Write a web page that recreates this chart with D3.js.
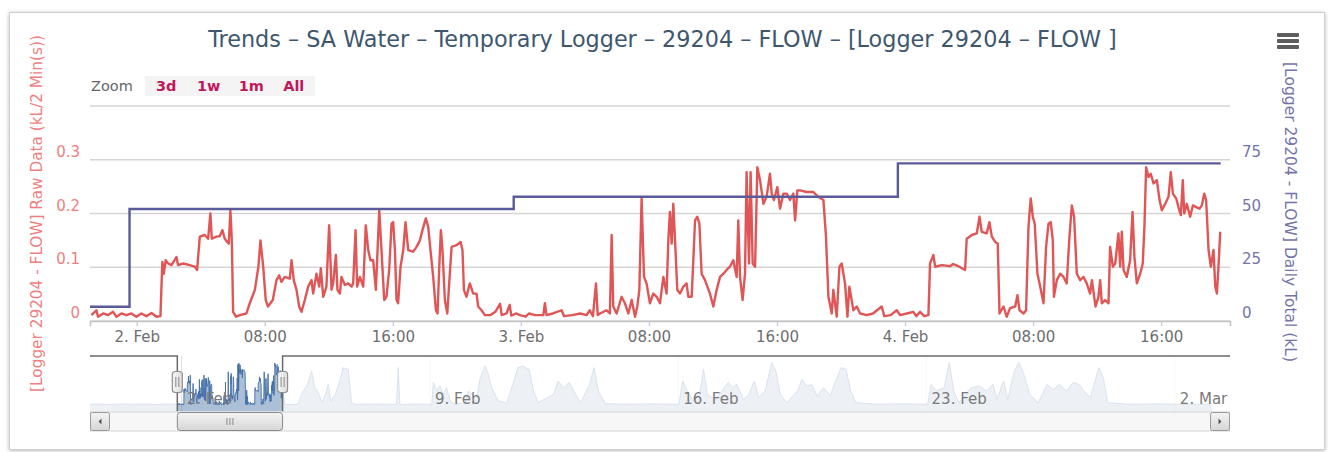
<!DOCTYPE html>
<html><head><meta charset="utf-8">
<script src="https://cdn.jsdelivr.net/npm/d3@7"></script>
<style>
html,body{margin:0;padding:0;background:#fff;}
svg{display:block;font-family:"DejaVu Sans",Verdana,sans-serif;}
</style></head><body>
<svg id="chart" width="1328" height="452"></svg>
<script>
// ---------- DATA ----------
const BASE = Date.UTC(2015, 1, 2); // 2 Feb 00:00 (hours below are offsets from this)
const titleText = "Trends – SA Water – Temporary Logger – 29204 – FLOW – [Logger 29204 – FLOW ]";
const leftTitle = "[Logger 29204 - FLOW] Raw Data (kL/2 Min(s))";
const rightTitle = "[Logger 29204 - FLOW] Daily Total (kL)";
const zoomButtons = ["3d", "1w", "1m", "All"];
const leftTicks = [0, 0.1, 0.2, 0.3];
const leftTickLabels = ["0", "0.1", "0.2", "0.3"];
const rightTicks = [0, 25, 50, 75];
const rightTickLabels = ["0", "25", "50", "75"];
const gridLeftValues = [0, 0.1, 0.2, 0.3, 0.4];
const viewRangeHours = [-2.92, 68.3];
const navRangeHours = [-62, 709.3];

// Raw flow (kL / 2 min): [hour offset, value]
const rawFlow = [
[-2.83,0.011],[-2.52,0.020],[-2.42,0.008],[-2.10,0.014],[-1.79,0.011],[-1.48,0.017],[-1.27,0.008],[-0.96,0.014],[-0.65,0.011],[-0.33,0.014],[-0.02,0.008],[0.29,0.014],[0.60,0.009],[0.92,0.015],[1.23,0.008],[1.48,0.009],[1.60,0.110],[1.69,0.088],[1.81,0.113],[1.96,0.107],[2.17,0.104],[2.48,0.119],[2.58,0.104],[2.90,0.107],[3.31,0.104],[3.63,0.101],[3.77,0.095],[3.94,0.157],[4.25,0.160],[4.46,0.153],[4.60,0.200],[4.69,0.153],[4.98,0.157],[5.19,0.158],[5.35,0.169],[5.50,0.153],[5.65,0.147],[5.75,0.144],[5.85,0.206],[5.94,0.150],[6.02,0.017],
[6.20,0.008],[6.44,0.011],[6.85,0.014],[7.06,0.033],[7.38,0.058],[7.60,0.101],[7.73,0.150],[7.90,0.101],[8.06,0.039],[8.20,0.027],[8.50,0.039],[8.73,0.076],[8.90,0.085],[9.04,0.073],[9.25,0.082],[9.56,0.079],[9.67,0.113],[9.81,0.076],[9.98,0.058],[10.15,0.027],[10.29,0.017],[10.50,0.039],[10.71,0.064],[10.92,0.076],[11.02,0.051],[11.23,0.088],[11.40,0.064],[11.50,0.098],[11.65,0.045],[11.85,0.064],[12.02,0.178],[12.17,0.058],[12.27,0.070],[12.44,0.123],[12.54,0.058],[12.69,0.051],[12.79,0.082],[13.00,0.067],[13.21,0.070],[13.42,0.064],[13.52,0.070],[13.67,0.169],[13.77,0.064],[13.94,0.082],[14.15,0.064],[14.31,0.178],[14.46,0.132],[14.60,0.113],[14.77,0.113],[14.94,0.058],[15.15,0.206],[15.29,0.132],[15.46,0.039],[15.60,0.045],[15.77,0.095],[15.92,0.181],[16.02,0.184],[16.13,0.132],[16.23,0.039],[16.33,0.033],[16.48,0.101],[16.65,0.132],[16.79,0.184],[16.96,0.132],[17.27,0.129],[17.48,0.138],[17.69,0.150],[17.85,0.169],[18.06,0.191],[18.21,0.175],[18.35,0.132],[18.52,0.082],[18.69,0.020],[18.79,0.014],[18.90,0.101],[19.00,0.169],[19.10,0.132],[19.25,0.039],[19.40,0.014],[19.52,0.070],[19.67,0.138],[19.98,0.141],[20.23,0.147],[20.35,0.132],[20.44,0.058],[20.60,0.045],[20.81,0.070],[21.02,0.051],[21.23,0.051],[21.33,0.027],[21.54,0.020],[21.75,0.011],
[22.10,0.011],[22.40,0.017],[22.70,0.032],[22.80,0.011],[23.10,0.014],[23.30,0.030],[23.40,0.010],[23.70,0.014],
[23.94,0.011],[24.30,0.008],[24.50,0.014],[24.90,0.011],[25.40,0.011],[25.50,0.033],[25.60,0.011],[26.00,0.014],[26.54,0.020],[26.70,0.009],[27.20,0.011],[27.70,0.014],[28.10,0.011],[28.30,0.020],[28.50,0.009],[28.69,0.070],[28.80,0.011],[28.94,0.014],[29.35,0.020],[29.56,0.014],[29.67,0.160],[29.77,0.027],[29.98,0.014],[30.29,0.045],[30.50,0.033],[30.71,0.014],[30.92,0.039],[31.13,0.008],[31.27,0.027],[31.40,0.058],[31.54,0.228],[31.69,0.082],[31.85,0.070],[32.06,0.033],[32.27,0.051],[32.48,0.045],[32.69,0.033],[32.90,0.082],[33.10,0.051],[33.21,0.150],[33.31,0.203],[33.42,0.144],[33.52,0.218],[33.63,0.150],[33.77,0.058],[33.94,0.051],[34.15,0.064],[34.35,0.070],[34.46,0.045],[34.67,0.045],[34.88,0.187],[35.02,0.194],[35.15,0.181],[35.29,0.088],[35.50,0.076],[35.81,0.051],[36.02,0.027],[36.23,0.058],[36.44,0.082],[36.65,0.088],[36.85,0.095],[37.06,0.101],[37.27,0.113],[37.48,0.082],[37.58,0.187],[37.69,0.082],[37.85,0.039],[38.00,0.088],[38.10,0.277],[38.25,0.107],[38.35,0.277],[38.48,0.107],[38.63,0.101],[38.77,0.286],[38.94,0.262],[39.15,0.218],[39.35,0.231],[39.56,0.274],[39.67,0.237],[39.81,0.225],[40.02,0.249],[40.19,0.209],[40.40,0.237],[40.60,0.237],[40.81,0.225],[41.02,0.237],[41.13,0.187],[41.27,0.243],[41.44,0.243],[41.85,0.240],[42.27,0.240],[42.58,0.231],[42.90,0.225],[43.06,0.157],[43.21,0.045],[43.42,0.014],[43.52,0.058],[43.73,0.008],[43.90,0.101],[44.04,0.107],[44.25,0.070],[44.40,0.008],[44.52,0.064],[44.60,0.050],[44.77,0.020],[44.98,0.027],[45.19,0.014],
[45.60,0.011],[46.00,0.014],[46.54,0.027],[46.70,0.009],[47.10,0.011],[47.48,0.020],[47.69,0.011],[48.10,0.014],[48.52,0.017],[48.70,0.009],[48.94,0.017],[49.20,0.009],[49.46,0.011],
[49.56,0.107],[49.77,0.123],[49.88,0.101],[50.30,0.104],[50.81,0.102],[51.00,0.106],[51.33,0.102],[51.75,0.095],[51.85,0.153],[52.17,0.160],[52.48,0.163],[52.65,0.194],[52.79,0.166],[53.10,0.163],[53.27,0.184],[53.42,0.157],[53.63,0.147],[53.79,0.144],[53.90,0.014],[54.15,0.027],[54.35,0.008],[54.56,0.024],[54.88,0.027],[55.02,0.048],[55.15,0.020],[55.40,0.014],[55.56,0.020],[55.71,0.175],[55.85,0.228],[55.98,0.194],[56.10,0.181],[56.27,0.088],[56.44,0.064],[56.65,0.033],[56.81,0.138],[56.96,0.181],[57.10,0.184],[57.23,0.150],[57.30,0.045],[57.48,0.076],[57.69,0.088],[57.90,0.082],[58.10,0.070],[58.27,0.157],[58.42,0.215],[58.56,0.194],[58.73,0.088],[58.94,0.076],[59.15,0.082],[59.35,0.070],[59.56,0.051],[59.67,0.076],[59.90,0.027],[60.08,0.045],[60.19,0.076],[60.29,0.033],[60.50,0.039],[60.71,0.033],[60.81,0.138],[60.98,0.101],[61.13,0.107],[61.33,0.163],[61.44,0.101],[61.54,0.166],[61.65,0.095],[61.85,0.082],[62.06,0.113],[62.21,0.203],[62.33,0.119],[62.48,0.070],[62.69,0.088],[62.85,0.107],[62.96,0.181],[63.06,0.286],[63.21,0.268],[63.35,0.274],[63.52,0.256],[63.73,0.262],[63.90,0.225],[64.04,0.206],[64.25,0.218],[64.46,0.231],[64.60,0.277],[64.73,0.237],[64.94,0.228],[65.08,0.212],[65.23,0.197],[65.35,0.262],[65.44,0.200],[65.60,0.218],[65.81,0.194],[65.98,0.215],[66.19,0.212],[66.40,0.209],[66.54,0.215],[66.69,0.237],[66.81,0.225],[66.96,0.132],[67.10,0.101],[67.27,0.132],[67.38,0.064],[67.48,0.051],[67.58,0.101],[67.69,0.166]
];

// Daily totals (kL), step series
const dailyHours  = [-3.5, -0.45, 23.55, 47.55, 67.72];
const dailyTotals = [6.6, 52.1, 57.8, 73.3, 73.3];

// Navigator series outside the viewed window: [hour offset, value]
const navBefore = [[-62,0.011],[-55,0.013],[-48,0.010],[-40,0.014],[-32,0.011],[-24,0.013],[-16,0.010],[-8,0.014],[-3.0,0.011]];
const navAfter = [
[69.8,0.011],[78.8,0.011],[81.1,0.078],[85.1,0.144],[87.9,0.233],[90.1,0.122],[92.4,0.089],[95.0,0.022],[97.4,0.078],[99.2,0.144],[100.9,0.033],[104.1,0.078],[107.0,0.167],[109.3,0.256],[112.7,0.244],[115.0,0.022],[117.2,0.011],[130,0.013],[145.4,0.011],[146.5,0.256],[147.7,0.011],[160,0.013],[169.2,0.011],[170.3,0.156],[172.6,0.100],[174.8,0.133],[177.0,0.078],[179.3,0.122],[181.6,0.033],[185.0,0.011],[191.7,0.022],[194.0,0.100],[196.3,0.078],[199.7,0.056],[202.0,0.189],[205.4,0.267],[207.5,0.211],[209.8,0.122],[214.3,0.033],[220,0.020],[227.6,0.256],[230.6,0.267],[235.1,0.244],[238.1,0.100],[241.2,0.022],[251.8,0.078],[254.7,0.167],[258.4,0.122],[262.3,0.156],[265.4,0.100],[269.9,0.022],[276.0,0.144],[279.0,0.256],[282.0,0.100],[286.5,0.016],[300,0.012],[320,0.014],[336.4,0.011],[339.0,0.167],[342.0,0.100],[346.4,0.033],[350.8,0.100],[353.1,0.244],[355.7,0.078],[361.0,0.044],[365.4,0.100],[369.8,0.156],[372.8,0.122],[375.7,0.144],[380.1,0.044],[383.9,0.078],[387.4,0.167],[390.4,0.056],[394.8,0.100],[399.2,0.290],[402.1,0.233],[405.0,0.078],[409.4,0.022],[416.7,0.100],[419.7,0.178],[423.2,0.133],[426.2,0.144],[430.0,0.067],[434.4,0.122],[438.8,0.067],[441.7,0.144],[446.1,0.256],[449.6,0.244],[452.6,0.100],[456.4,0.022],[470,0.012],[490,0.014],[504.8,0.011],[507.1,0.144],[510.6,0.100],[515.9,0.122],[519.4,0.290],[522.4,0.100],[525.9,0.022],[534.1,0.122],[540.0,0.133],[544.4,0.100],[548.8,0.144],[551.7,0.044],[556.1,0.167],[559.0,0.044],[563.4,0.233],[566.4,0.290],[569.9,0.211],[573.7,0.078],[579.6,0.022],[585.4,0.144],[589.8,0.111],[594.2,0.144],[598.6,0.100],[603.0,0.156],[607.4,0.144],[610.4,0.100],[614.8,0.056],[620.6,0.256],[623.6,0.189],[626.5,0.022],[640,0.012],[660,0.014],[680,0.011],[697.0,0.012]
];

// ---------- RENDER ----------
const H = 3600e3;
const toDate = h => new Date(BASE + h * H);
const svg = d3.select("#chart");
const defs = svg.append("defs");

const sh = defs.append("filter").attr("id","shadow").attr("x","-5%").attr("y","-5%").attr("width","110%").attr("height","110%");
sh.append("feDropShadow").attr("dx",0).attr("dy",1).attr("stdDeviation",2).attr("flood-color","#000").attr("flood-opacity",0.28);

const gBtn = defs.append("linearGradient").attr("id","gBtn").attr("x1",0).attr("y1",0).attr("x2",0).attr("y2",1);
gBtn.append("stop").attr("offset","0").attr("stop-color","#f4f4f4");
gBtn.append("stop").attr("offset","1").attr("stop-color","#d6d6d6");
const gHandle = defs.append("linearGradient").attr("id","gHandle").attr("x1",0).attr("y1",0).attr("x2",1).attr("y2",0);
gHandle.append("stop").attr("offset","0").attr("stop-color","#f6f6f6");
gHandle.append("stop").attr("offset","1").attr("stop-color","#dcdcdc");

// frame
svg.append("rect").attr("x",9.5).attr("y",12.5).attr("width",1315).attr("height",437)
  .attr("fill","#fff").attr("stroke","#cfcfcf").attr("filter","url(#shadow)");

// scales
const x = d3.scaleUtc().domain(viewRangeHours.map(toDate)).range([90, 1230]);
const yL = d3.scaleLinear().domain([0, 0.4]).range([321, 106]);
const yR = d3.scaleLinear().domain([0, 100]).range([321, 106]);
const nx = d3.scaleUtc().domain(navRangeHours.map(toDate)).range([90, 1230]);
const ny = d3.scaleLinear().domain([0, 0.3]).range([406, 361]);

function fitWidth(sel, w){
  const n = sel.node(); const fs = parseFloat(sel.attr("font-size"));
  const len = n.getComputedTextLength();
  sel.attr("font-size", (fs * w / len).toFixed(2));
}

// title
const t = svg.append("text").attr("x",662.5).attr("y",47).attr("text-anchor","middle")
  .attr("font-size",20).attr("fill","#3e576f").text(titleText);
fitWidth(t, 909);

// hamburger
[35, 41, 47].forEach(yy => svg.append("rect").attr("x",1277).attr("y",yy-2).attr("width",22).attr("height",4)
  .attr("rx",1).attr("fill","#5e5e5e"));

// zoom buttons
svg.append("text").attr("x",91).attr("y",91).attr("font-size",14.5).attr("fill","#666").text("Zoom");
const bx = d3.scaleBand().domain(zoomButtons).range([145, 315]).padding(0);
zoomButtons.forEach(b => {
  svg.append("rect").attr("x",bx(b)).attr("y",76).attr("width",bx.bandwidth()).attr("height",20).attr("fill","#f4f4f4");
  svg.append("text").attr("x",bx(b)+bx.bandwidth()/2).attr("y",91).attr("text-anchor","middle")
    .attr("font-size",14.5).attr("font-weight","bold").attr("fill","#c2185b").text(b);
});

// gridlines
svg.append("g").selectAll("line").data(gridLeftValues).join("line")
  .attr("x1",90).attr("x2",1230).attr("y1",d=>yL(d)).attr("y2",d=>yL(d))
  .attr("stroke","#d6d6d6").attr("stroke-width",1.6);

// left labels
svg.append("g").selectAll("text").data(leftTicks).join("text")
  .attr("x",80).attr("y",d=>yL(d)-3).attr("text-anchor","end").attr("font-size",15)
  .attr("fill","#f07f7f").text((d,i)=>leftTickLabels[i]);
// right labels
svg.append("g").selectAll("text").data(rightTicks).join("text")
  .attr("x",1242).attr("y",d=>yR(d)-3).attr("text-anchor","start").attr("font-size",15)
  .attr("fill","#7474aa").text((d,i)=>rightTickLabels[i]);

// axis titles
const lt = svg.append("text").attr("transform","translate(37,213.5) rotate(-90)").attr("text-anchor","middle")
  .attr("dominant-baseline","central").attr("font-size",14).attr("fill","#f07f7f").text(leftTitle);
fitWidth(lt, 357);
const rt = svg.append("text").attr("transform","translate(1290,212) rotate(90)").attr("text-anchor","middle")
  .attr("dominant-baseline","central").attr("font-size",14).attr("fill","#7474aa").text(rightTitle);
fitWidth(rt, 300);

// x axis
const fmt = d => (d.getUTCHours()===0 ? d3.utcFormat("%-d. %b")(d) : d3.utcFormat("%H:%M")(d));
const xa = svg.append("g").attr("transform","translate(0,321)")
  .call(d3.axisBottom(x).ticks(d3.utcHour.every(8)).tickFormat(fmt).tickSize(5).tickPadding(5));
xa.select(".domain").attr("stroke","#c4c4c4").attr("stroke-width",1.6);
xa.selectAll(".tick line").attr("stroke","#c0d0e0").attr("stroke-width",1.4);
xa.selectAll(".tick text").attr("font-size",15).attr("fill","#6e6e6e").attr("font-family","DejaVu Sans");

// clip plot
defs.append("clipPath").attr("id","plotClip").append("rect").attr("x",90).attr("y",100).attr("width",1140).attr("height",224);

const plot = svg.append("g").attr("clip-path","url(#plotClip)");
const lineRaw = d3.line().x(d=>x(toDate(d[0]))).y(d=>yL(d[1]));
plot.append("path").datum(rawFlow).attr("d",lineRaw).attr("fill","none")
  .attr("stroke","#e05555").attr("stroke-width",2.4).attr("stroke-linejoin","round");

const daily = dailyHours.map((h,i)=>[h, dailyTotals[i]]);
const lineDaily = d3.line().curve(d3.curveStepAfter).x(d=>x(toDate(d[0]))).y(d=>yR(d[1]));
plot.append("path").datum(daily).attr("d",lineDaily).attr("fill","none")
  .attr("stroke","#5b5b9c").attr("stroke-width",2.4);

// ---------- NAVIGATOR ----------
const navTop = 356, navBot = 411.5;
const selL = nx(x.domain()[0]), selR = nx(x.domain()[1]);
const ng = svg.append("g");
const weekTicks = nx.ticks(d3.utcMonday.every(1));
ng.selectAll("line.wk").data(weekTicks).join("line").attr("class","wk")
  .attr("x1",d=>nx(d)).attr("x2",d=>nx(d)).attr("y1",navTop).attr("y2",navBot)
  .attr("stroke","#dedede").attr("stroke-width",1);
const navData = navBefore.concat(rawFlow, navAfter);
defs.append("clipPath").attr("id","navClip").append("rect").attr("x",90).attr("y",navTop).attr("width",1140).attr("height",navBot-navTop);
const navArea = d3.area().x(d=>nx(toDate(d[0]))).y0(navBot).y1(d=>ny(d[1]));
const navLine = d3.line().x(d=>nx(toDate(d[0]))).y(d=>ny(d[1]));
const ns = ng.append("g").attr("clip-path","url(#navClip)");
ns.append("path").datum(navData).attr("d",navArea).attr("fill","#4572a7").attr("fill-opacity",0.45);
ns.append("path").datum(navData).attr("d",navLine).attr("fill","none").attr("stroke","#4570a8").attr("stroke-width",0.9);
// mask outside selection
ng.append("rect").attr("x",90).attr("y",navTop).attr("width",selL-90).attr("height",navBot-navTop).attr("fill","rgba(255,255,255,0.78)");
ng.append("rect").attr("x",selR).attr("y",navTop).attr("width",1230-selR).attr("height",navBot-navTop).attr("fill","rgba(255,255,255,0.78)");
// week labels
ng.selectAll("text.wk").data(weekTicks).join("text").attr("class","wk")
  .attr("x",d=>nx(d)+5).attr("y",404).attr("font-size",15).attr("fill","#7a7a7a")
  .text(d=>d3.utcFormat("%-d. %b")(d));
// outline
ng.append("path").attr("d",`M90,${navTop}H${selL}V${navBot}M${selR},${navBot}V${navTop}H1230`)
  .attr("fill","none").attr("stroke","#6a6a6a").attr("stroke-width",1.5);

// scrollbar
const sbY = 412, sbH = 19;
ng.append("rect").attr("x",90.5).attr("y",sbY).attr("width",1139).attr("height",sbH)
  .attr("fill","#f7f7f7").attr("stroke","#d4d4d4");
[[90.5,-1],[1210.5,1]].forEach(([bxp,dir]) => {
  ng.append("rect").attr("x",bxp).attr("y",sbY+0.5).attr("width",19).attr("height",sbH-1).attr("rx",2)
    .attr("fill","url(#gBtn)").attr("stroke","#9a9a9a");
  const cx = bxp+9.5, cy = sbY+sbH/2;
  ng.append("path").attr("d", dir<0 ? `M${cx+1.5},${cy-3}L${cx-1.5},${cy}L${cx+1.5},${cy+3}Z` : `M${cx-1.5},${cy-3}L${cx+1.5},${cy}L${cx-1.5},${cy+3}Z`)
    .attr("fill","#555");
});
ng.append("rect").attr("x",selL).attr("y",sbY+0.5).attr("width",selR-selL).attr("height",sbH-1).attr("rx",3)
  .attr("fill","url(#gBtn)").attr("stroke","#8a8a8a");
const gx = (selL+selR)/2;
[-3,0,3].forEach(o => ng.append("line").attr("x1",gx+o).attr("x2",gx+o).attr("y1",sbY+6).attr("y2",sbY+13)
  .attr("stroke","#888").attr("stroke-width",1));

// handles
[selL, selR].forEach(hx => {
  ng.append("rect").attr("x",hx-5).attr("y",371.5).attr("width",10).attr("height",21).attr("rx",3)
    .attr("fill","url(#gHandle)").attr("stroke","#8f8f8f").attr("stroke-width",1.2);
  [-1.5,1.5].forEach(o => ng.append("line").attr("x1",hx+o).attr("x2",hx+o).attr("y1",377).attr("y2",387)
    .attr("stroke","#8a8a8a").attr("stroke-width",1));
});
</script>
</body></html>
